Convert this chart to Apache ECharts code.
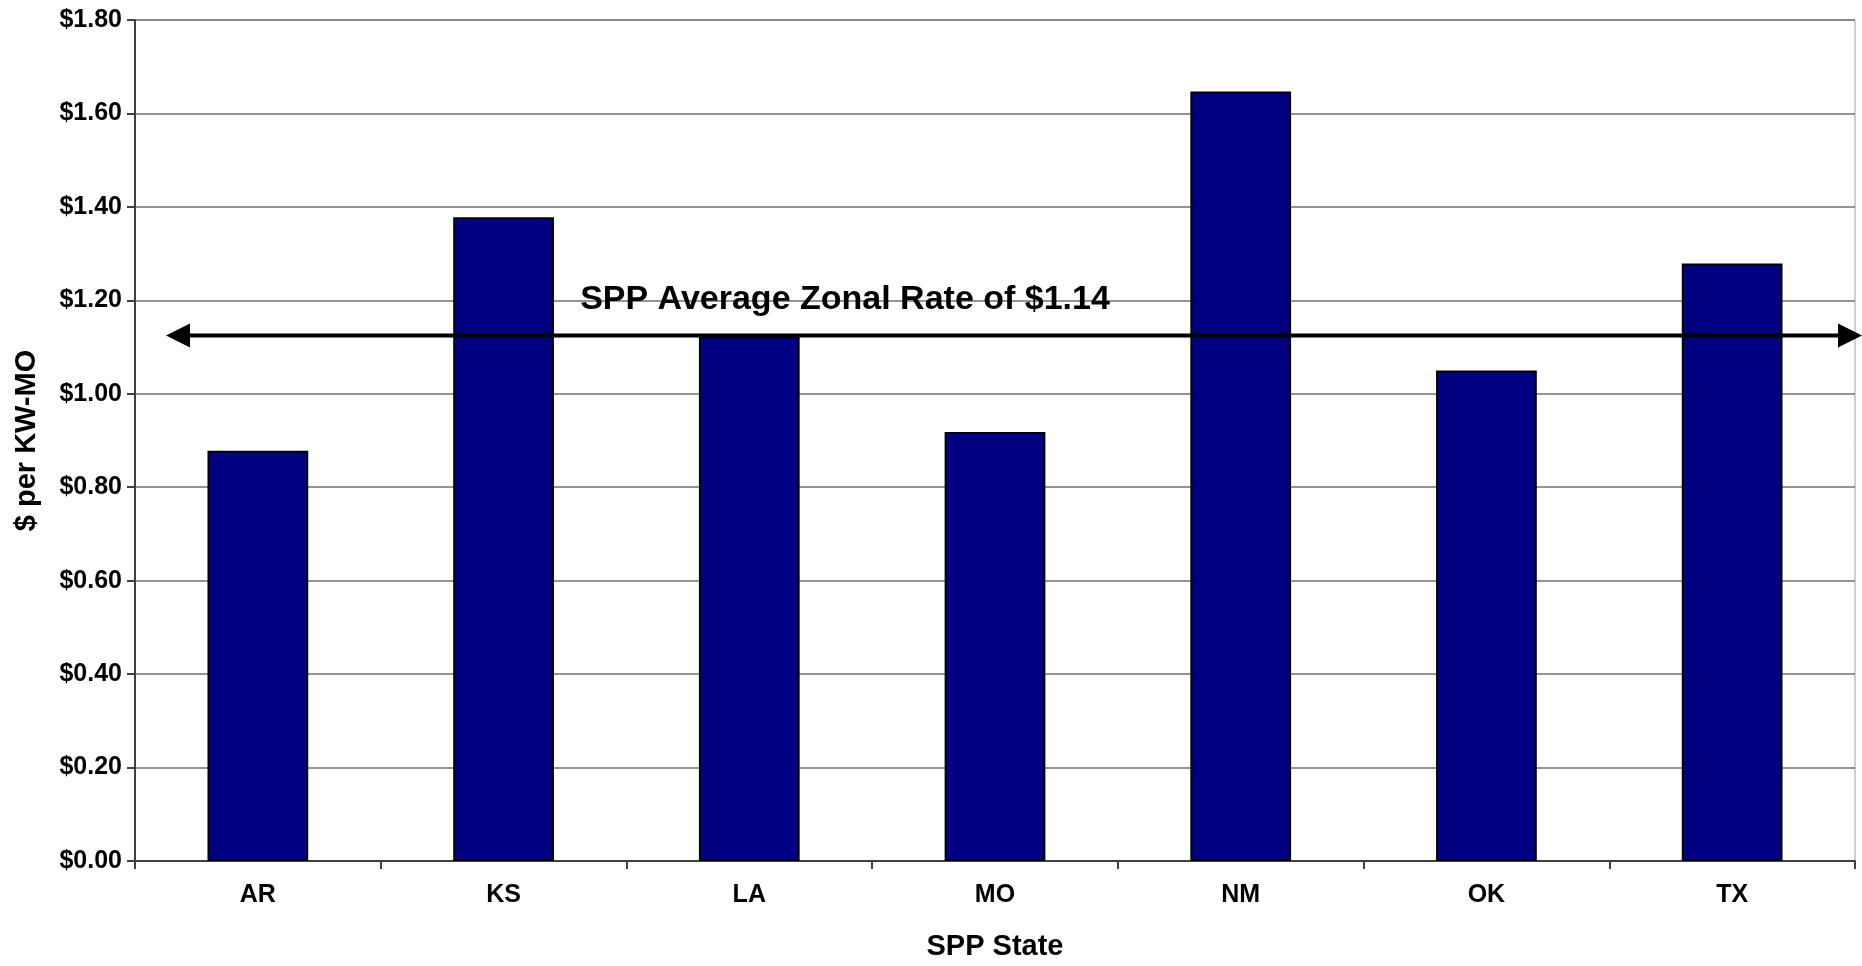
<!DOCTYPE html>
<html>
<head>
<meta charset="utf-8">
<script src="https://cdn.jsdelivr.net/npm/echarts@6/dist/echarts.min.js"></script>
<style>
  html, body { margin: 0; padding: 0; background: #fff; }
  #chart { width: 1862px; height: 966px; }
</style>
</head>
<body>
<div id="chart"></div>
<script>
const states = ["AR", "KS", "LA", "MO", "NM", "OK", "TX"];
const rates = [0.878, 1.378, 1.123, 0.918, 1.647, 1.05, 1.279];
const yTicks = { min: 0, max: 1.8, interval: 0.2 };
const avgLineValue = 1.125;
const avgLabel = "SPP Average Zonal Rate of $1.14";

const font = '"Liberation Sans", Arial, sans-serif';
const chart = echarts.init(document.getElementById("chart"));

chart.setOption({
  animation: false,
  grid: {
    left: 135, right: 7, top: 20, bottom: 100,
    show: true, borderColor: "#a0a0a0", borderWidth: 1
  },
  xAxis: {
    type: "category",
    data: states,
    name: "SPP State",
    nameLocation: "middle",
    nameGap: 71,
    nameTextStyle: { fontFamily: font, fontWeight: "bold", fontSize: 29, color: "#000" },
    axisLine: { lineStyle: { color: "#404040", width: 2 } },
    axisTick: { show: true, length: 8, lineStyle: { color: "#404040", width: 2 } },
    axisLabel: { fontFamily: font, fontWeight: "bold", fontSize: 25, color: "#000", margin: 22 }
  },
  yAxis: {
    type: "value",
    min: yTicks.min,
    max: yTicks.max,
    interval: yTicks.interval,
    name: "$ per KW-MO",
    nameLocation: "middle",
    nameRotate: 90,
    nameGap: 94,
    nameTextStyle: { fontFamily: font, fontWeight: "bold", fontSize: 29, color: "#000" },
    axisLine: { show: true, lineStyle: { color: "#404040", width: 2 } },
    axisTick: { show: true, length: 8, lineStyle: { color: "#404040", width: 2 } },
    splitLine: { show: true, lineStyle: { color: "#707070", width: 1.5 } },
    axisLabel: {
      fontFamily: font, fontWeight: "bold", fontSize: 25, color: "#000", margin: 13,
      formatter: (v) => "$" + v.toFixed(2)
    }
  },
  series: [{
    type: "bar",
    data: rates,
    barCategoryGap: "59%",
    itemStyle: { color: "#000080", borderColor: "#000", borderWidth: 2 }
  }]
});

// average annotation: double-headed arrow placed through the y scale
const ay = chart.convertToPixel({ yAxisIndex: 0 }, avgLineValue);
const x0 = 166, x1 = 1862, head = 24;
chart.setOption({
  graphic: [
    { type: "line", shape: { x1: x0 + head - 2, y1: ay, x2: x1 - head + 2, y2: ay },
      style: { stroke: "#000", lineWidth: 4 }, z: 100 },
    { type: "polygon", shape: { points: [[x0, ay], [x0 + head, ay - 12], [x0 + head, ay + 12]] },
      style: { fill: "#000" }, z: 100 },
    { type: "polygon", shape: { points: [[x1, ay], [x1 - head, ay - 12], [x1 - head, ay + 12]] },
      style: { fill: "#000" }, z: 100 },
    { type: "text", x: 845, y: ay - 36, z: 100,
      style: { text: avgLabel, fontFamily: font, fontWeight: "bold", fontSize: 34,
               fill: "#000", align: "center", verticalAlign: "middle" } }
  ]
});
</script>
</body>
</html>
